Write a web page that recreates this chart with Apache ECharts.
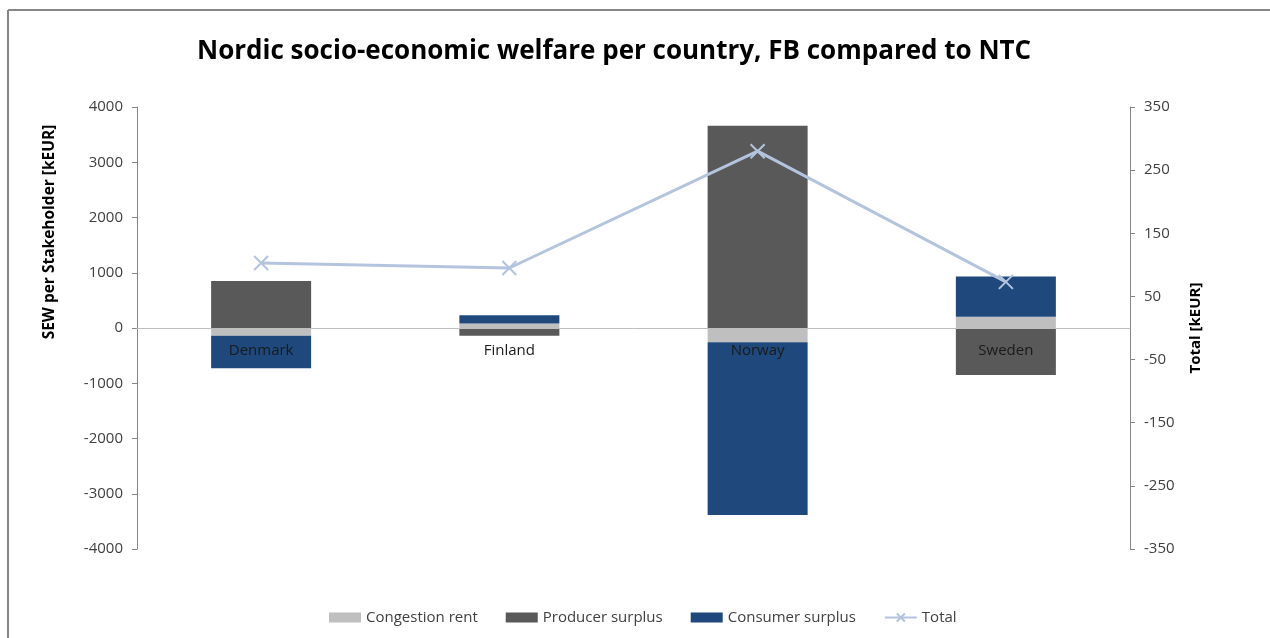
<!DOCTYPE html>
<html>
<head>
<meta charset="utf-8">
<script src="https://cdn.jsdelivr.net/npm/echarts@6/dist/echarts.min.js"></script>
<style>
  html, body { margin: 0; padding: 0; background: #fff; }
  #chart { width: 1270px; height: 638px; }
</style>
</head>
<body>
<div id="chart"></div>
<script>
// Welfare components per country (kEUR)
var countries = ['Denmark', 'Finland', 'Norway', 'Sweden'];
var congestionRent = [-140, 80, -260, 205];
var producerSurplus = [850, -140, 3660, -850];
var consumerSurplus = [-590, 150, -3125, 725];
var totalWelfare = [103, 95, 280, 73];

var FONT = '"Open Sans", "Liberation Sans", sans-serif';
var TEXT = '#404040';
var AXIS = '#868686';

var chart = echarts.init(document.getElementById('chart'), null, { renderer: 'canvas' });

chart.setOption({
  animation: false,
  backgroundColor: '#fff',
  textStyle: { fontFamily: FONT },
  title: {
    text: 'Nordic socio-economic welfare per country, FB compared to NTC',
    left: 192,
    top: 34,
    textStyle: { fontFamily: FONT, fontSize: 26, fontWeight: 'bold', color: '#000' }
  },
  graphic: [
    { type: 'line', shape: { x1: 8, y1: 10, x2: 1270, y2: 10 }, style: { stroke: AXIS, lineWidth: 2 } },
    { type: 'line', shape: { x1: 8, y1: 10, x2: 8, y2: 638 }, style: { stroke: AXIS, lineWidth: 2 } },
    {
      type: 'text', x: 50, y: 232, rotation: Math.PI / 2,
      style: { text: 'SEW per Stakeholder [kEUR]', fontFamily: FONT, fontSize: 15.5, fontWeight: 'bold', fill: '#000', align: 'center', verticalAlign: 'middle' }
    },
    {
      type: 'text', x: 1196, y: 328, rotation: Math.PI / 2,
      style: { text: 'Total [kEUR]', fontFamily: FONT, fontSize: 15, fontWeight: 'bold', fill: '#000', align: 'center', verticalAlign: 'middle' }
    }
  ],
  legend: {
    bottom: 8,
    left: 324,
    itemGap: 28,
    itemWidth: 32,
    itemHeight: 10,
    textStyle: { fontFamily: FONT, fontSize: 15, color: TEXT },
    data: [
      { name: 'Congestion rent', icon: 'rect' },
      { name: 'Producer surplus', icon: 'rect' },
      { name: 'Consumer surplus', icon: 'rect' },
      { name: 'Total' }
    ]
  },
  grid: { left: 137, right: 140, top: 107, bottom: 89 },
  xAxis: {
    type: 'category',
    data: countries,
    z: 5,
    position: 'bottom',
    offset: -221,
    axisLine: { onZero: false, lineStyle: { color: '#bfbfbf', width: 1 } },
    axisTick: { show: false },
    axisLabel: { fontFamily: FONT, fontSize: 15, color: '#1a1a1a', margin: 15 }
  },
  yAxis: [
    {
      type: 'value', min: -4000, max: 4000, interval: 1000,
      axisLine: { show: true, lineStyle: { color: AXIS } },
      axisTick: { show: true, length: 5, lineStyle: { color: AXIS } },
      axisLabel: { fontFamily: FONT, fontSize: 15, color: TEXT, margin: 14, formatter: function (v) { return String(v); } },
      splitLine: { show: false }
    },
    {
      type: 'value', min: -350, max: 350, interval: 100,
      axisLine: { show: true, lineStyle: { color: AXIS } },
      axisTick: { show: true, length: 5, lineStyle: { color: AXIS } },
      axisLabel: { fontFamily: FONT, fontSize: 15, color: TEXT, margin: 14, formatter: function (v) { return String(v); } },
      splitLine: { show: false }
    }
  ],
  series: [
    {
      name: 'Congestion rent', type: 'bar', stack: 'sew', yAxisIndex: 0,
      barWidth: 100, itemStyle: { color: '#bfbfbf' }, data: congestionRent
    },
    {
      name: 'Producer surplus', type: 'bar', stack: 'sew', yAxisIndex: 0,
      barWidth: 100, itemStyle: { color: '#595959' }, data: producerSurplus
    },
    {
      name: 'Consumer surplus', type: 'bar', stack: 'sew', yAxisIndex: 0,
      barWidth: 100, itemStyle: { color: '#1f497d' }, data: consumerSurplus
    },
    {
      name: 'Total', type: 'line', yAxisIndex: 1, z: 6,
      data: totalWelfare,
      lineStyle: { color: '#b4c4de', width: 3 },
      symbol: 'path://M0,0L10,10M10,0L0,10',
      symbolSize: 14,
      itemStyle: { color: '#b4c4de', borderColor: '#b4c4de', borderWidth: 2 }
    }
  ]
});
</script>
</body>
</html>
